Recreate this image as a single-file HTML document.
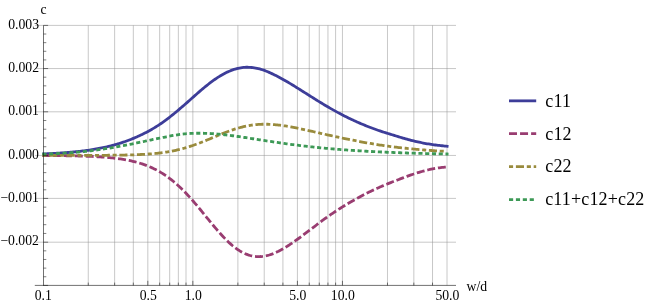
<!DOCTYPE html>
<html><head><meta charset="utf-8"><title>plot</title>
<style>html,body{margin:0;padding:0;background:#fff;width:654px;height:305px;overflow:hidden;font-family:"Liberation Serif",serif;}</style>
</head><body>
<svg width="654" height="305" viewBox="0 0 654 305" style="position:absolute;left:0;top:0;will-change:transform">
<rect width="654" height="305" fill="#fff"/>
<g stroke="#909090" stroke-width="0.5">
<line x1="88.28" y1="25.4" x2="88.28" y2="285.4"/>
<line x1="114.63" y1="25.4" x2="114.63" y2="285.4"/>
<line x1="133.32" y1="25.4" x2="133.32" y2="285.4"/>
<line x1="147.82" y1="25.4" x2="147.82" y2="285.4"/>
<line x1="159.66" y1="25.4" x2="159.66" y2="285.4"/>
<line x1="169.68" y1="25.4" x2="169.68" y2="285.4"/>
<line x1="178.35" y1="25.4" x2="178.35" y2="285.4"/>
<line x1="186.00" y1="25.4" x2="186.00" y2="285.4"/>
<line x1="192.85" y1="25.4" x2="192.85" y2="285.4"/>
<line x1="237.88" y1="25.4" x2="237.88" y2="285.4"/>
<line x1="264.23" y1="25.4" x2="264.23" y2="285.4"/>
<line x1="282.92" y1="25.4" x2="282.92" y2="285.4"/>
<line x1="297.42" y1="25.4" x2="297.42" y2="285.4"/>
<line x1="309.26" y1="25.4" x2="309.26" y2="285.4"/>
<line x1="319.28" y1="25.4" x2="319.28" y2="285.4"/>
<line x1="327.95" y1="25.4" x2="327.95" y2="285.4"/>
<line x1="335.60" y1="25.4" x2="335.60" y2="285.4"/>
<line x1="342.45" y1="25.4" x2="342.45" y2="285.4"/>
<line x1="387.48" y1="25.4" x2="387.48" y2="285.4"/>
<line x1="413.83" y1="25.4" x2="413.83" y2="285.4"/>
<line x1="432.52" y1="25.4" x2="432.52" y2="285.4"/>
<line x1="447.02" y1="25.4" x2="447.02" y2="285.4"/>
</g>
<g stroke="#909090" stroke-width="0.5">
<line x1="35" y1="242.20" x2="456" y2="242.20"/>
<line x1="35" y1="198.40" x2="456" y2="198.40"/>
<line x1="35" y1="155.45" x2="456" y2="155.45"/>
<line x1="35" y1="111.80" x2="456" y2="111.80"/>
<line x1="35" y1="68.55" x2="456" y2="68.55"/>
<line x1="35" y1="25.40" x2="456" y2="25.40"/>
</g>
<g fill="none" stroke-linecap="butt" stroke-linejoin="round">
<path d="M42.30,154.00 L43.50,153.94 L44.85,153.89 L46.20,153.83 L47.55,153.77 L48.90,153.70 L50.26,153.63 L51.61,153.56 L52.96,153.49 L54.31,153.42 L55.66,153.34 L57.01,153.26 L58.36,153.18 L59.71,153.09 L61.07,153.00 L62.42,152.90 L63.77,152.81 L65.12,152.71 L66.47,152.60 L67.82,152.49 L69.17,152.38 L70.52,152.26 L71.87,152.14 L73.23,152.01 L74.58,151.88 L75.93,151.75 L77.28,151.60 L78.63,151.46 L79.98,151.31 L81.33,151.15 L82.68,150.98 L84.04,150.81 L85.39,150.64 L86.74,150.46 L88.09,150.27 L89.44,150.07 L90.79,149.87 L92.14,149.66 L93.49,149.44 L94.84,149.22 L96.20,148.98 L97.55,148.74 L98.90,148.49 L100.25,148.23 L101.60,147.96 L102.95,147.68 L104.30,147.39 L105.65,147.10 L107.01,146.79 L108.36,146.47 L109.71,146.14 L111.06,145.80 L112.41,145.45 L113.76,145.08 L115.11,144.71 L116.46,144.32 L117.81,143.91 L119.17,143.50 L120.52,143.07 L121.87,142.63 L123.22,142.18 L124.57,141.72 L125.92,141.25 L127.27,140.76 L128.62,140.25 L129.97,139.74 L131.33,139.21 L132.68,138.66 L134.03,138.10 L135.38,137.52 L136.73,136.94 L138.08,136.34 L139.43,135.73 L140.78,135.10 L142.14,134.45 L143.49,133.79 L144.84,133.11 L146.19,132.41 L147.54,131.69 L148.89,130.96 L150.24,130.21 L151.59,129.45 L152.94,128.66 L154.30,127.86 L155.65,127.04 L157.00,126.19 L158.35,125.32 L159.70,124.41 L161.05,123.49 L162.40,122.54 L163.75,121.58 L165.11,120.60 L166.46,119.60 L167.81,118.58 L169.16,117.54 L170.51,116.49 L171.86,115.41 L173.21,114.32 L174.56,113.22 L175.91,112.11 L177.27,110.98 L178.62,109.84 L179.97,108.69 L181.32,107.54 L182.67,106.37 L184.02,105.20 L185.37,104.02 L186.72,102.84 L188.08,101.64 L189.43,100.44 L190.78,99.24 L192.13,98.03 L193.48,96.83 L194.83,95.64 L196.18,94.45 L197.53,93.26 L198.88,92.09 L200.24,90.92 L201.59,89.77 L202.94,88.62 L204.29,87.50 L205.64,86.39 L206.99,85.30 L208.34,84.23 L209.69,83.19 L211.05,82.16 L212.40,81.17 L213.75,80.19 L215.10,79.24 L216.45,78.33 L217.80,77.43 L219.15,76.57 L220.50,75.74 L221.85,74.95 L223.21,74.18 L224.56,73.46 L225.91,72.77 L227.26,72.11 L228.61,71.50 L229.96,70.93 L231.31,70.39 L232.66,69.90 L234.02,69.45 L235.37,69.03 L236.72,68.65 L238.07,68.32 L239.42,68.03 L240.77,67.78 L242.12,67.58 L243.47,67.43 L244.82,67.32 L246.18,67.27 L247.53,67.26 L248.88,67.30 L250.23,67.38 L251.58,67.49 L252.93,67.65 L254.28,67.84 L255.63,68.07 L256.98,68.34 L258.34,68.64 L259.69,68.98 L261.04,69.35 L262.39,69.75 L263.74,70.19 L265.09,70.68 L266.44,71.21 L267.79,71.76 L269.15,72.35 L270.50,72.97 L271.85,73.61 L273.20,74.26 L274.55,74.94 L275.90,75.62 L277.25,76.31 L278.60,77.01 L279.95,77.73 L281.31,78.46 L282.66,79.21 L284.01,79.96 L285.36,80.73 L286.71,81.51 L288.06,82.30 L289.41,83.10 L290.76,83.91 L292.12,84.73 L293.47,85.56 L294.82,86.39 L296.17,87.23 L297.52,88.07 L298.87,88.92 L300.22,89.77 L301.57,90.62 L302.92,91.47 L304.28,92.32 L305.63,93.18 L306.98,94.03 L308.33,94.88 L309.68,95.74 L311.03,96.59 L312.38,97.44 L313.73,98.29 L315.09,99.14 L316.44,99.98 L317.79,100.82 L319.14,101.65 L320.49,102.48 L321.84,103.31 L323.19,104.12 L324.54,104.93 L325.89,105.74 L327.25,106.53 L328.60,107.32 L329.95,108.10 L331.30,108.87 L332.65,109.64 L334.00,110.40 L335.35,111.15 L336.70,111.89 L338.06,112.62 L339.41,113.34 L340.76,114.06 L342.11,114.76 L343.46,115.46 L344.81,116.15 L346.16,116.83 L347.51,117.50 L348.86,118.16 L350.22,118.81 L351.57,119.45 L352.92,120.08 L354.27,120.71 L355.62,121.32 L356.97,121.93 L358.32,122.53 L359.67,123.12 L361.03,123.70 L362.38,124.27 L363.73,124.83 L365.08,125.38 L366.43,125.93 L367.78,126.46 L369.13,126.99 L370.48,127.51 L371.83,128.02 L373.19,128.52 L374.54,129.01 L375.89,129.50 L377.24,129.98 L378.59,130.45 L379.94,130.91 L381.29,131.36 L382.64,131.81 L383.99,132.25 L385.35,132.68 L386.70,133.10 L388.05,133.52 L389.40,133.93 L390.75,134.33 L392.10,134.74 L393.45,135.16 L394.80,135.58 L396.16,136.00 L397.51,136.42 L398.86,136.83 L400.21,137.24 L401.56,137.64 L402.91,138.04 L404.26,138.42 L405.61,138.80 L406.96,139.18 L408.32,139.56 L409.67,139.92 L411.02,140.28 L412.37,140.62 L413.72,140.95 L415.07,141.27 L416.42,141.58 L417.77,141.89 L419.13,142.18 L420.48,142.47 L421.83,142.75 L423.18,143.02 L424.53,143.28 L425.88,143.53 L427.23,143.77 L428.58,143.99 L429.93,144.21 L431.29,144.42 L432.64,144.62 L433.99,144.81 L435.34,144.99 L436.69,145.15 L438.04,145.31 L439.39,145.45 L440.74,145.60 L442.10,145.75 L443.45,145.89 L444.80,146.03 L446.15,146.17 L447.50,146.30 L448.50,146.40" stroke="#3D3D99" stroke-width="2.8"/>
<path d="M42.30,155.51 L43.50,155.52 L44.85,155.53 L46.20,155.54 L47.55,155.55 L48.90,155.56 L50.26,155.56 L51.61,155.58 L52.96,155.59 L54.31,155.60 L55.66,155.61 L57.01,155.62 L58.36,155.64 L59.71,155.65 L61.07,155.67 L62.42,155.68 L63.77,155.70 L65.12,155.72 L66.47,155.74 L67.82,155.76 L69.17,155.78 L70.52,155.81 L71.87,155.83 L73.23,155.86 L74.58,155.89 L75.93,155.92 L77.28,155.95 L78.63,155.98 L79.98,156.02 L81.33,156.06 L82.68,156.10 L84.04,156.14 L85.39,156.19 L86.74,156.24 L88.09,156.29 L89.44,156.34 L90.79,156.40 L92.14,156.46 L93.49,156.52 L94.84,156.59 L96.20,156.66 L97.55,156.74 L98.90,156.82 L100.25,156.91 L101.60,157.00 L102.95,157.09 L104.30,157.19 L105.65,157.30 L107.01,157.42 L108.36,157.53 L109.71,157.66 L111.06,157.80 L112.41,157.94 L113.76,158.09 L115.11,158.24 L116.46,158.41 L117.81,158.59 L119.17,158.77 L120.52,158.97 L121.87,159.17 L123.22,159.39 L124.57,159.62 L125.92,159.86 L127.27,160.11 L128.62,160.38 L129.97,160.66 L131.33,160.96 L132.68,161.27 L134.03,161.60 L135.38,161.94 L136.73,162.30 L138.08,162.68 L139.43,163.08 L140.78,163.50 L142.14,163.93 L143.49,164.39 L144.84,164.87 L146.19,165.37 L147.54,165.90 L148.89,166.45 L150.24,167.02 L151.59,167.62 L152.94,168.25 L154.30,168.90 L155.65,169.58 L157.00,170.29 L158.35,171.03 L159.70,171.80 L161.05,172.60 L162.40,173.43 L163.75,174.29 L165.11,175.18 L166.46,176.11 L167.81,177.06 L169.16,178.06 L170.51,179.08 L171.86,180.14 L173.21,181.23 L174.56,182.36 L175.91,183.52 L177.27,184.72 L178.62,185.94 L179.97,187.21 L181.32,188.50 L182.67,189.82 L184.02,191.18 L185.37,192.57 L186.72,193.99 L188.08,195.43 L189.43,196.90 L190.78,198.40 L192.13,199.93 L193.48,201.47 L194.83,203.04 L196.18,204.63 L197.53,206.23 L198.88,207.85 L200.24,209.48 L201.59,211.13 L202.94,212.78 L204.29,214.44 L205.64,216.10 L206.99,217.76 L208.34,219.42 L209.69,221.08 L211.05,222.72 L212.40,224.36 L213.75,225.98 L215.10,227.59 L216.45,229.18 L217.80,230.74 L219.15,232.29 L220.50,233.80 L221.85,235.28 L223.21,236.73 L224.56,238.14 L225.91,239.52 L227.26,240.85 L228.61,242.14 L229.96,243.38 L231.31,244.58 L232.66,245.73 L234.02,246.82 L235.37,247.87 L236.72,248.85 L238.07,249.79 L239.42,250.66 L240.77,251.48 L242.12,252.23 L243.47,252.93 L244.82,253.57 L246.18,254.15 L247.53,254.66 L248.88,255.11 L250.23,255.51 L251.58,255.84 L252.93,256.11 L254.28,256.33 L255.63,256.48 L256.98,256.57 L258.34,256.61 L259.69,256.59 L261.04,256.52 L262.39,256.39 L263.74,256.21 L265.09,255.98 L266.44,255.70 L267.79,255.37 L269.15,254.99 L270.50,254.57 L271.85,254.10 L273.20,253.59 L274.55,253.04 L275.90,252.46 L277.25,251.83 L278.60,251.18 L279.95,250.48 L281.31,249.76 L282.66,249.01 L284.01,248.23 L285.36,247.42 L286.71,246.59 L288.06,245.73 L289.41,244.86 L290.76,243.96 L292.12,243.05 L293.47,242.11 L294.82,241.17 L296.17,240.21 L297.52,239.24 L298.87,238.25 L300.22,237.26 L301.57,236.26 L302.92,235.25 L304.28,234.23 L305.63,233.21 L306.98,232.19 L308.33,231.16 L309.68,230.13 L311.03,229.10 L312.38,228.07 L313.73,227.05 L315.09,226.02 L316.44,224.99 L317.79,223.97 L319.14,222.95 L320.49,221.94 L321.84,220.94 L323.19,219.94 L324.54,218.96 L325.89,217.99 L327.25,217.03 L328.60,216.08 L329.95,215.14 L331.30,214.21 L332.65,213.28 L334.00,212.37 L335.35,211.47 L336.70,210.58 L338.06,209.70 L339.41,208.82 L340.76,207.95 L342.11,207.10 L343.46,206.26 L344.81,205.44 L346.16,204.63 L347.51,203.82 L348.86,203.03 L350.22,202.25 L351.57,201.48 L352.92,200.71 L354.27,199.95 L355.62,199.19 L356.97,198.44 L358.32,197.69 L359.67,196.94 L361.03,196.21 L362.38,195.49 L363.73,194.78 L365.08,194.08 L366.43,193.39 L367.78,192.72 L369.13,192.05 L370.48,191.39 L371.83,190.75 L373.19,190.11 L374.54,189.49 L375.89,188.87 L377.24,188.27 L378.59,187.67 L379.94,187.07 L381.29,186.49 L382.64,185.91 L383.99,185.34 L385.35,184.77 L386.70,184.22 L388.05,183.67 L389.40,183.13 L390.75,182.60 L392.10,182.07 L393.45,181.54 L394.80,181.01 L396.16,180.48 L397.51,179.96 L398.86,179.44 L400.21,178.93 L401.56,178.42 L402.91,177.91 L404.26,177.39 L405.61,176.88 L406.96,176.38 L408.32,175.88 L409.67,175.40 L411.02,174.93 L412.37,174.47 L413.72,174.01 L415.07,173.56 L416.42,173.13 L417.77,172.70 L419.13,172.29 L420.48,171.90 L421.83,171.52 L423.18,171.15 L424.53,170.79 L425.88,170.43 L427.23,170.09 L428.58,169.76 L429.93,169.45 L431.29,169.15 L432.64,168.88 L433.99,168.62 L435.34,168.39 L436.69,168.18 L438.04,167.97 L439.39,167.79 L440.74,167.61 L442.10,167.44 L443.45,167.31 L444.80,167.21 L445.80,167.14" stroke="#993D71" stroke-width="2.8" stroke-dasharray="7.99,2.85"/>
<path d="M42.30,155.40 L43.50,155.40 L44.85,155.40 L46.20,155.40 L47.55,155.40 L48.90,155.40 L50.26,155.40 L51.61,155.40 L52.96,155.40 L54.31,155.40 L55.66,155.40 L57.01,155.39 L58.36,155.39 L59.71,155.39 L61.07,155.39 L62.42,155.39 L63.77,155.39 L65.12,155.39 L66.47,155.39 L67.82,155.39 L69.17,155.39 L70.52,155.39 L71.87,155.39 L73.23,155.39 L74.58,155.38 L75.93,155.38 L77.28,155.38 L78.63,155.38 L79.98,155.38 L81.33,155.38 L82.68,155.37 L84.04,155.37 L85.39,155.37 L86.74,155.37 L88.09,155.36 L89.44,155.36 L90.79,155.36 L92.14,155.35 L93.49,155.35 L94.84,155.34 L96.20,155.34 L97.55,155.33 L98.90,155.33 L100.25,155.32 L101.60,155.31 L102.95,155.31 L104.30,155.30 L105.65,155.29 L107.01,155.28 L108.36,155.27 L109.71,155.26 L111.06,155.24 L112.41,155.23 L113.76,155.22 L115.11,155.20 L116.46,155.18 L117.81,155.17 L119.17,155.15 L120.52,155.12 L121.87,155.10 L123.22,155.08 L124.57,155.05 L125.92,155.02 L127.27,154.99 L128.62,154.95 L129.97,154.92 L131.33,154.88 L132.68,154.84 L134.03,154.79 L135.38,154.74 L136.73,154.69 L138.08,154.64 L139.43,154.58 L140.78,154.51 L142.14,154.44 L143.49,154.37 L144.84,154.29 L146.19,154.20 L147.54,154.11 L148.89,154.02 L150.24,153.91 L151.59,153.80 L152.94,153.69 L154.30,153.56 L155.65,153.43 L157.00,153.29 L158.35,153.14 L159.70,152.99 L161.05,152.82 L162.40,152.64 L163.75,152.46 L165.11,152.26 L166.46,152.05 L167.81,151.83 L169.16,151.60 L170.51,151.36 L171.86,151.11 L173.21,150.84 L174.56,150.56 L175.91,150.27 L177.27,149.97 L178.62,149.65 L179.97,149.32 L181.32,148.97 L182.67,148.61 L184.02,148.24 L185.37,147.85 L186.72,147.45 L188.08,147.04 L189.43,146.61 L190.78,146.18 L192.13,145.72 L193.48,145.26 L194.83,144.78 L196.18,144.30 L197.53,143.80 L198.88,143.29 L200.24,142.77 L201.59,142.24 L202.94,141.71 L204.29,141.16 L205.64,140.61 L206.99,140.06 L208.34,139.50 L209.69,138.93 L211.05,138.36 L212.40,137.80 L213.75,137.23 L215.10,136.66 L216.45,136.09 L217.80,135.53 L219.15,134.96 L220.50,134.41 L221.85,133.86 L223.21,133.32 L224.56,132.78 L225.91,132.26 L227.26,131.74 L228.61,131.24 L229.96,130.75 L231.31,130.27 L232.66,129.81 L234.02,129.36 L235.37,128.92 L236.72,128.51 L238.07,128.11 L239.42,127.73 L240.77,127.36 L242.12,127.02 L243.47,126.70 L244.82,126.39 L246.18,126.11 L247.53,125.84 L248.88,125.60 L250.23,125.37 L251.58,125.17 L252.93,124.98 L254.28,124.82 L255.63,124.68 L256.98,124.56 L258.34,124.45 L259.69,124.37 L261.04,124.31 L262.39,124.26 L263.74,124.24 L265.09,124.23 L266.44,124.24 L267.79,124.27 L269.15,124.31 L270.50,124.37 L271.85,124.45 L273.20,124.54 L274.55,124.65 L275.90,124.77 L277.25,124.91 L278.60,125.06 L279.95,125.22 L281.31,125.39 L282.66,125.57 L284.01,125.77 L285.36,125.97 L286.71,126.19 L288.06,126.41 L289.41,126.65 L290.76,126.89 L292.12,127.14 L293.47,127.39 L294.82,127.65 L296.17,127.92 L297.52,128.19 L298.87,128.47 L300.22,128.75 L301.57,129.04 L302.92,129.33 L304.28,129.63 L305.63,129.92 L306.98,130.22 L308.33,130.52 L309.68,130.83 L311.03,131.13 L312.38,131.44 L313.73,131.75 L315.09,132.05 L316.44,132.36 L317.79,132.67 L319.14,132.98 L320.49,133.29 L321.84,133.59 L323.19,133.90 L324.54,134.20 L325.89,134.51 L327.25,134.81 L328.60,135.11 L329.95,135.41 L331.30,135.71 L332.65,136.00 L334.00,136.29 L335.35,136.58 L336.70,136.87 L338.06,137.16 L339.41,137.44 L340.76,137.72 L342.11,138.00 L343.46,138.28 L344.81,138.56 L346.16,138.84 L347.51,139.12 L348.86,139.39 L350.22,139.66 L351.57,139.93 L352.92,140.20 L354.27,140.47 L355.62,140.74 L356.97,141.00 L358.32,141.26 L359.67,141.52 L361.03,141.78 L362.38,142.03 L363.73,142.28 L365.08,142.53 L366.43,142.77 L367.78,143.01 L369.13,143.25 L370.48,143.49 L371.83,143.72 L373.19,143.95 L374.54,144.17 L375.89,144.40 L377.24,144.61 L378.59,144.83 L379.94,145.04 L381.29,145.24 L382.64,145.44 L383.99,145.64 L385.35,145.84 L386.70,146.02 L388.05,146.21 L389.40,146.39 L390.75,146.57 L392.10,146.74 L393.45,146.90 L394.80,147.07 L396.16,147.22 L397.51,147.38 L398.86,147.53 L400.21,147.68 L401.56,147.83 L402.91,147.98 L404.26,148.12 L405.61,148.26 L406.96,148.40 L408.32,148.53 L409.67,148.67 L411.02,148.80 L412.37,148.93 L413.72,149.05 L415.07,149.18 L416.42,149.30 L417.77,149.42 L419.13,149.54 L420.48,149.66 L421.83,149.77 L423.18,149.88 L424.53,149.99 L425.88,150.10 L427.23,150.21 L428.58,150.31 L429.93,150.41 L431.29,150.51 L432.64,150.61 L433.99,150.71 L435.34,150.81 L436.69,150.89 L438.04,150.97 L439.39,151.04 L440.74,151.10 L442.10,151.15 L443.45,151.20 L444.45,151.24" stroke="#998B3D" stroke-width="2.8" stroke-dasharray="4.05,2.7,8.1,2.73"/>
<path d="M42.30,154.20 L43.50,154.15 L44.85,154.10 L46.20,154.05 L47.55,154.00 L48.90,153.94 L50.26,153.89 L51.61,153.82 L52.96,153.76 L54.31,153.70 L55.66,153.63 L57.01,153.56 L58.36,153.49 L59.71,153.41 L61.07,153.34 L62.42,153.26 L63.77,153.17 L65.12,153.09 L66.47,153.00 L67.82,152.91 L69.17,152.81 L70.52,152.71 L71.87,152.61 L73.23,152.51 L74.58,152.40 L75.93,152.28 L77.28,152.17 L78.63,152.05 L79.98,151.92 L81.33,151.79 L82.68,151.66 L84.04,151.53 L85.39,151.38 L86.74,151.24 L88.09,151.09 L89.44,150.94 L90.79,150.78 L92.14,150.61 L93.49,150.45 L94.84,150.27 L96.20,150.10 L97.55,149.91 L98.90,149.73 L100.25,149.54 L101.60,149.34 L102.95,149.14 L104.30,148.93 L105.65,148.72 L107.01,148.50 L108.36,148.28 L109.71,148.05 L111.06,147.82 L112.41,147.58 L113.76,147.34 L115.11,147.10 L116.46,146.85 L117.81,146.60 L119.17,146.35 L120.52,146.11 L121.87,145.86 L123.22,145.61 L124.57,145.36 L125.92,145.10 L127.27,144.84 L128.62,144.58 L129.97,144.32 L131.33,144.05 L132.68,143.78 L134.03,143.51 L135.38,143.23 L136.73,142.95 L138.08,142.67 L139.43,142.39 L140.78,142.10 L142.14,141.82 L143.49,141.54 L144.84,141.25 L146.19,140.97 L147.54,140.68 L148.89,140.38 L150.24,140.08 L151.59,139.79 L152.94,139.49 L154.30,139.20 L155.65,138.92 L157.00,138.63 L158.35,138.35 L159.70,138.08 L161.05,137.81 L162.40,137.55 L163.75,137.29 L165.11,137.03 L166.46,136.76 L167.81,136.50 L169.16,136.23 L170.51,135.98 L171.86,135.73 L173.21,135.49 L174.56,135.26 L175.91,135.05 L177.27,134.84 L178.62,134.64 L179.97,134.45 L181.32,134.27 L182.67,134.10 L184.02,133.95 L185.37,133.81 L186.72,133.69 L188.08,133.60 L189.43,133.51 L190.78,133.44 L192.13,133.38 L193.48,133.33 L194.83,133.29 L196.18,133.25 L197.53,133.24 L198.88,133.23 L200.24,133.23 L201.59,133.24 L202.94,133.26 L204.29,133.29 L205.64,133.33 L206.99,133.38 L208.34,133.44 L209.69,133.51 L211.05,133.58 L212.40,133.67 L213.75,133.76 L215.10,133.86 L216.45,133.97 L217.80,134.08 L219.15,134.21 L220.50,134.34 L221.85,134.47 L223.21,134.62 L224.56,134.76 L225.91,134.92 L227.26,135.08 L228.61,135.24 L229.96,135.41 L231.31,135.58 L232.66,135.76 L234.02,135.94 L235.37,136.13 L236.72,136.32 L238.07,136.51 L239.42,136.70 L240.77,136.90 L242.12,137.10 L243.47,137.30 L244.82,137.50 L246.18,137.71 L247.53,137.91 L248.88,138.12 L250.23,138.33 L251.58,138.54 L252.93,138.75 L254.28,138.96 L255.63,139.17 L256.98,139.38 L258.34,139.59 L259.69,139.81 L261.04,140.02 L262.39,140.23 L263.74,140.44 L265.09,140.64 L266.44,140.85 L267.79,141.06 L269.15,141.26 L270.50,141.47 L271.85,141.67 L273.20,141.88 L274.55,142.08 L275.90,142.28 L277.25,142.47 L278.60,142.67 L279.95,142.86 L281.31,143.06 L282.66,143.25 L284.01,143.44 L285.36,143.62 L286.71,143.81 L288.06,143.99 L289.41,144.17 L290.76,144.35 L292.12,144.53 L293.47,144.71 L294.82,144.88 L296.17,145.05 L297.52,145.22 L298.87,145.39 L300.22,145.55 L301.57,145.72 L302.92,145.88 L304.28,146.03 L305.63,146.19 L306.98,146.35 L308.33,146.50 L309.68,146.65 L311.03,146.80 L312.38,146.94 L313.73,147.08 L315.09,147.23 L316.44,147.37 L317.79,147.50 L319.14,147.64 L320.49,147.77 L321.84,147.90 L323.19,148.03 L324.54,148.16 L325.89,148.29 L327.25,148.41 L328.60,148.53 L329.95,148.65 L331.30,148.77 L332.65,148.88 L334.00,149.00 L335.35,149.11 L336.70,149.22 L338.06,149.33 L339.41,149.44 L340.76,149.54 L342.11,149.64 L343.46,149.75 L344.81,149.85 L346.16,149.94 L347.51,150.04 L348.86,150.14 L350.22,150.23 L351.57,150.32 L352.92,150.41 L354.27,150.50 L355.62,150.59 L356.97,150.67 L358.32,150.76 L359.67,150.84 L361.03,150.92 L362.38,151.00 L363.73,151.08 L365.08,151.16 L366.43,151.23 L367.78,151.31 L369.13,151.38 L370.48,151.45 L371.83,151.52 L373.19,151.59 L374.54,151.66 L375.89,151.73 L377.24,151.80 L378.59,151.86 L379.94,151.92 L381.29,151.99 L382.64,152.05 L383.99,152.11 L385.35,152.17 L386.70,152.23 L388.05,152.28 L389.40,152.34 L390.75,152.40 L392.10,152.45 L393.45,152.50 L394.80,152.56 L396.16,152.61 L397.51,152.66 L398.86,152.71 L400.21,152.76 L401.56,152.80 L402.91,152.85 L404.26,152.90 L405.61,152.94 L406.96,152.99 L408.32,153.03 L409.67,153.07 L411.02,153.12 L412.37,153.16 L413.72,153.20 L415.07,153.24 L416.42,153.28 L417.77,153.32 L419.13,153.35 L420.48,153.39 L421.83,153.43 L423.18,153.46 L424.53,153.50 L425.88,153.53 L427.23,153.57 L428.58,153.60 L429.93,153.63 L431.29,153.66 L432.64,153.70 L433.99,153.73 L435.34,153.76 L436.69,153.79 L438.04,153.82 L439.39,153.84 L440.74,153.87 L442.10,153.90 L443.45,153.93 L444.80,153.95 L446.15,153.98 L447.50,154.01 L448.50,154.03" stroke="#3D9956" stroke-width="2.8" stroke-dasharray="4.1,2.667"/>
</g>
<g stroke="#111" stroke-width="0.6">
<line x1="43.5" y1="25.4" x2="43.5" y2="285.7"/>
<line x1="34.8" y1="285.4" x2="456" y2="285.4"/>
</g>
<g stroke="#000" stroke-width="0.5">
<line x1="43.5" y1="285.40" x2="48.10" y2="285.40"/>
<line x1="43.5" y1="276.76" x2="46.30" y2="276.76"/>
<line x1="43.5" y1="268.12" x2="46.30" y2="268.12"/>
<line x1="43.5" y1="259.48" x2="46.30" y2="259.48"/>
<line x1="43.5" y1="250.84" x2="46.30" y2="250.84"/>
<line x1="43.5" y1="242.20" x2="48.10" y2="242.20"/>
<line x1="43.5" y1="233.44" x2="46.30" y2="233.44"/>
<line x1="43.5" y1="224.68" x2="46.30" y2="224.68"/>
<line x1="43.5" y1="215.92" x2="46.30" y2="215.92"/>
<line x1="43.5" y1="207.16" x2="46.30" y2="207.16"/>
<line x1="43.5" y1="198.40" x2="48.10" y2="198.40"/>
<line x1="43.5" y1="189.81" x2="46.30" y2="189.81"/>
<line x1="43.5" y1="181.22" x2="46.30" y2="181.22"/>
<line x1="43.5" y1="172.63" x2="46.30" y2="172.63"/>
<line x1="43.5" y1="164.04" x2="46.30" y2="164.04"/>
<line x1="43.5" y1="155.45" x2="48.10" y2="155.45"/>
<line x1="43.5" y1="146.72" x2="46.30" y2="146.72"/>
<line x1="43.5" y1="137.99" x2="46.30" y2="137.99"/>
<line x1="43.5" y1="129.26" x2="46.30" y2="129.26"/>
<line x1="43.5" y1="120.53" x2="46.30" y2="120.53"/>
<line x1="43.5" y1="111.80" x2="48.10" y2="111.80"/>
<line x1="43.5" y1="103.15" x2="46.30" y2="103.15"/>
<line x1="43.5" y1="94.50" x2="46.30" y2="94.50"/>
<line x1="43.5" y1="85.85" x2="46.30" y2="85.85"/>
<line x1="43.5" y1="77.20" x2="46.30" y2="77.20"/>
<line x1="43.5" y1="68.55" x2="48.10" y2="68.55"/>
<line x1="43.5" y1="59.92" x2="46.30" y2="59.92"/>
<line x1="43.5" y1="51.29" x2="46.30" y2="51.29"/>
<line x1="43.5" y1="42.66" x2="46.30" y2="42.66"/>
<line x1="43.5" y1="34.03" x2="46.30" y2="34.03"/>
<line x1="43.5" y1="25.40" x2="48.10" y2="25.40"/>
<line x1="88.28" y1="285.4" x2="88.28" y2="282.60"/>
<line x1="114.63" y1="285.4" x2="114.63" y2="282.60"/>
<line x1="133.32" y1="285.4" x2="133.32" y2="282.60"/>
<line x1="147.82" y1="285.4" x2="147.82" y2="280.80"/>
<line x1="159.66" y1="285.4" x2="159.66" y2="282.60"/>
<line x1="169.68" y1="285.4" x2="169.68" y2="282.60"/>
<line x1="178.35" y1="285.4" x2="178.35" y2="282.60"/>
<line x1="186.00" y1="285.4" x2="186.00" y2="282.60"/>
<line x1="192.85" y1="285.4" x2="192.85" y2="280.80"/>
<line x1="237.88" y1="285.4" x2="237.88" y2="282.60"/>
<line x1="264.23" y1="285.4" x2="264.23" y2="282.60"/>
<line x1="282.92" y1="285.4" x2="282.92" y2="282.60"/>
<line x1="297.42" y1="285.4" x2="297.42" y2="280.80"/>
<line x1="309.26" y1="285.4" x2="309.26" y2="282.60"/>
<line x1="319.28" y1="285.4" x2="319.28" y2="282.60"/>
<line x1="327.95" y1="285.4" x2="327.95" y2="282.60"/>
<line x1="335.60" y1="285.4" x2="335.60" y2="282.60"/>
<line x1="342.45" y1="285.4" x2="342.45" y2="280.80"/>
<line x1="387.48" y1="285.4" x2="387.48" y2="282.60"/>
<line x1="413.83" y1="285.4" x2="413.83" y2="282.60"/>
<line x1="432.52" y1="285.4" x2="432.52" y2="282.60"/>
</g>
<g font-family="Liberation Serif, serif" font-size="13.7" fill="#000" transform="rotate(0.02)">
<text x="39.0" y="245.40" text-anchor="end">−0.002</text>
<text x="39.0" y="201.60" text-anchor="end">−0.001</text>
<text x="39.0" y="158.65" text-anchor="end">0.000</text>
<text x="39.0" y="115.00" text-anchor="end">0.001</text>
<text x="39.0" y="71.75" text-anchor="end">0.002</text>
<text x="39.0" y="28.60" text-anchor="end">0.003</text>
<text x="43.35" y="299.6" text-anchor="middle">0.1</text>
<text x="148.32" y="299.6" text-anchor="middle">0.5</text>
<text x="193.35" y="299.6" text-anchor="middle">1.0</text>
<text x="297.92" y="299.6" text-anchor="middle">5.0</text>
<text x="342.95" y="299.6" text-anchor="middle">10.0</text>
<text x="447.52" y="299.6" text-anchor="middle">50.0</text>
<text x="43.5" y="13.7" text-anchor="middle">c</text>
<text x="466.6" y="290.5">w/d</text>
</g>
<g fill="none" stroke-width="2.8">
<line x1="509" y1="100.85" x2="536.2" y2="100.85" stroke="#3D3D99"/>
<line x1="509" y1="133.7" x2="536.2" y2="133.7" stroke="#993D71" stroke-dasharray="8,3.05"/>
<line x1="509" y1="166.6" x2="536.2" y2="166.6" stroke="#998B3D" stroke-dasharray="4.1,2.8,8.1,2.8"/>
<line x1="509" y1="199.6" x2="536.2" y2="199.6" stroke="#3D9956" stroke-dasharray="4.15,2.75"/>
</g>
<g font-family="Liberation Serif, serif" font-size="18" fill="#000" transform="rotate(0.02)">
<text x="545.3" y="106.4" letter-spacing="0.15">c11</text>
<text x="545.3" y="139.4" letter-spacing="0.15">c12</text>
<text x="545.3" y="172.3" letter-spacing="0.15">c22</text>
<text x="545.3" y="205.1" letter-spacing="0.15">c11+c12+c22</text>
</g>
</svg>
</body></html>
